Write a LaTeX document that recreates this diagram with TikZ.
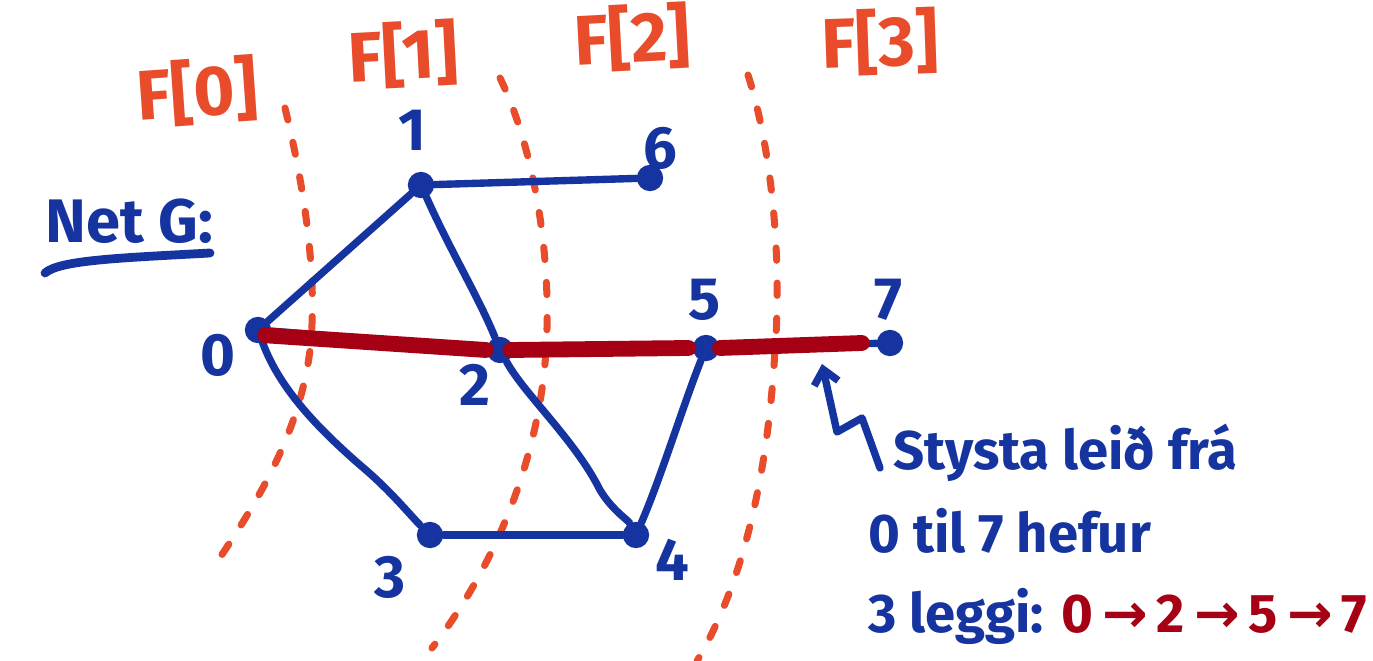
\documentclass[tikz,border=0pt]{standalone}
\usepackage{fontspec}
\setmainfont{Fira Sans}
\newfontfamily\arrfont{DejaVu Sans}
\usetikzlibrary{arrows.meta}
\definecolor{inkblue}{RGB}{22,52,160}
\definecolor{inkred}{RGB}{165,0,20}
\definecolor{inkorange}{RGB}{232,76,42}
\tikzset{
  edge/.style={draw=inkblue,line width=4.2pt,line cap=round,line join=round},
  path/.style={draw=inkred,line width=9pt,line cap=round},
  front/.style={draw=inkorange,line width=4pt,line cap=round,dash pattern=on 7pt off 13pt},
  vtx/.style={circle,fill=inkblue,inner sep=0pt,minimum size=15pt},
  vlabel/.style={text=inkblue,font=\fontsize{34}{34}\selectfont\bfseries,inner sep=0pt},
  flabel/.style={text=inkorange,font=\fontsize{40}{40}\selectfont\bfseries,inner sep=0pt},
  note/.style={text=inkblue,font=\fontsize{31}{31}\selectfont\bfseries,inner sep=0pt,anchor=base west}
}
\newcommand{\parr}{\,{\arrfont\bfseries→}\,}
\begin{document}
\begin{tikzpicture}[x=0.02cm,y=-0.02cm]
\useasboundingbox[fill=white] (0,0) rectangle (1373,661);
% vertices
\node[vtx] (v0) at (258,330) {};
\node[vtx] (v1) at (421,185) {};
\node[vtx] (v6) at (650,178) {};
\node[vtx] (v2) at (500,350) {};
\node[vtx] (v5) at (706,348) {};
\node[vtx] (v7) at (890,343) {};
\node[vtx] (v3) at (430,535) {};
\node[vtx] (v4) at (636,535) {};
% labels
\node[vlabel] (l0) at (218,355) {0};
\node[vlabel] (l1) at (412,130) {1};
\node[vlabel] (l6) at (660,148) {6};
\node[vlabel] (l2) at (475,385) {2};
\node[vlabel] (l5) at (705,300) {5};
\node[vlabel] (l7) at (888,300) {7};
\node[vlabel] (l3) at (390,577) {3};
\node[vlabel] (l4) at (672,560) {4};
% frontier dashed curves
\draw[front] (285,108) .. controls (305,190) and (318,280) .. (310,350) .. controls (300,430) and (260,500) .. (210,572);
\draw[front] (500,78) .. controls (535,150) and (552,260) .. (546,350) .. controls (540,450) and (500,560) .. (432,648);
\draw[front] (748,75) .. controls (772,150) and (782,260) .. (775,350) .. controls (768,470) and (745,580) .. (697,661);
% F labels
\node[flabel,rotate=4] (f0) at (197,92) {F[0]};
\node[flabel,rotate=3] (f1) at (403,55) {F[1]};
\node[flabel,rotate=3] (f2) at (632,38) {F[2]};
\node[flabel,rotate=2] (f3) at (880,42) {F[3]};
% Net G
\node[text=inkblue,font=\fontsize{35}{35}\selectfont\bfseries,inner sep=0pt,anchor=base west] (net) at (45,243) {Net G:};
\coordinate (ul1) at (45,273);
\coordinate (ul2) at (210,253);
\draw[edge,line width=5pt] (ul1) .. controls (60,260) and (120,258) .. (ul2);
% edges
\draw[edge] (v0) -- (v1);
\draw[edge] (v1) -- (v6);
\draw[edge] (v1) .. controls (450,250) and (480,300) .. (v2);
\draw[edge] (v0) -- (v2);
\draw[edge] (v2) -- (v5);
\draw[edge] (v5) -- (v7);
\draw[edge] (v0) .. controls (280,390) and (320,430) .. (360,465) .. controls (390,490) and (410,515) .. (v3);
\draw[edge] (v3) -- (v4);
\draw[edge] (v2) .. controls (525,395) and (575,440) .. (600,490) .. controls (612,510) and (628,520) .. (v4);
\draw[edge] (v5) .. controls (685,400) and (660,480) .. (v4);
% shortest path (red)
\draw[path] ([xshift=4pt,yshift=-3pt]v0.center) -- ([xshift=-8pt]v2.center);
\draw[path] ([xshift=6pt]v2.center) -- ([xshift=-10pt]v5.center);
\draw[path] ([xshift=8pt]v5.center) -- ([xshift=-16pt]v7.center);
% note
\node[note] (n1) at (893,470) {Stysta leið frá};
\node[note] (n2) at (868,553) {0 til 7 hefur};
\node[note] (n3) at (868,633) {3 leggi: \textcolor{inkred}{0\parr2\parr5\parr7}};
\coordinate (arrtail) at (880,468);
\coordinate (arrtip) at (822,364);
\draw[edge,-{Straight Barb[length=8pt,width=14pt]}] (arrtail) -- (862,418) -- (837,432) -- (arrtip);
\end{tikzpicture}
\end{document}
